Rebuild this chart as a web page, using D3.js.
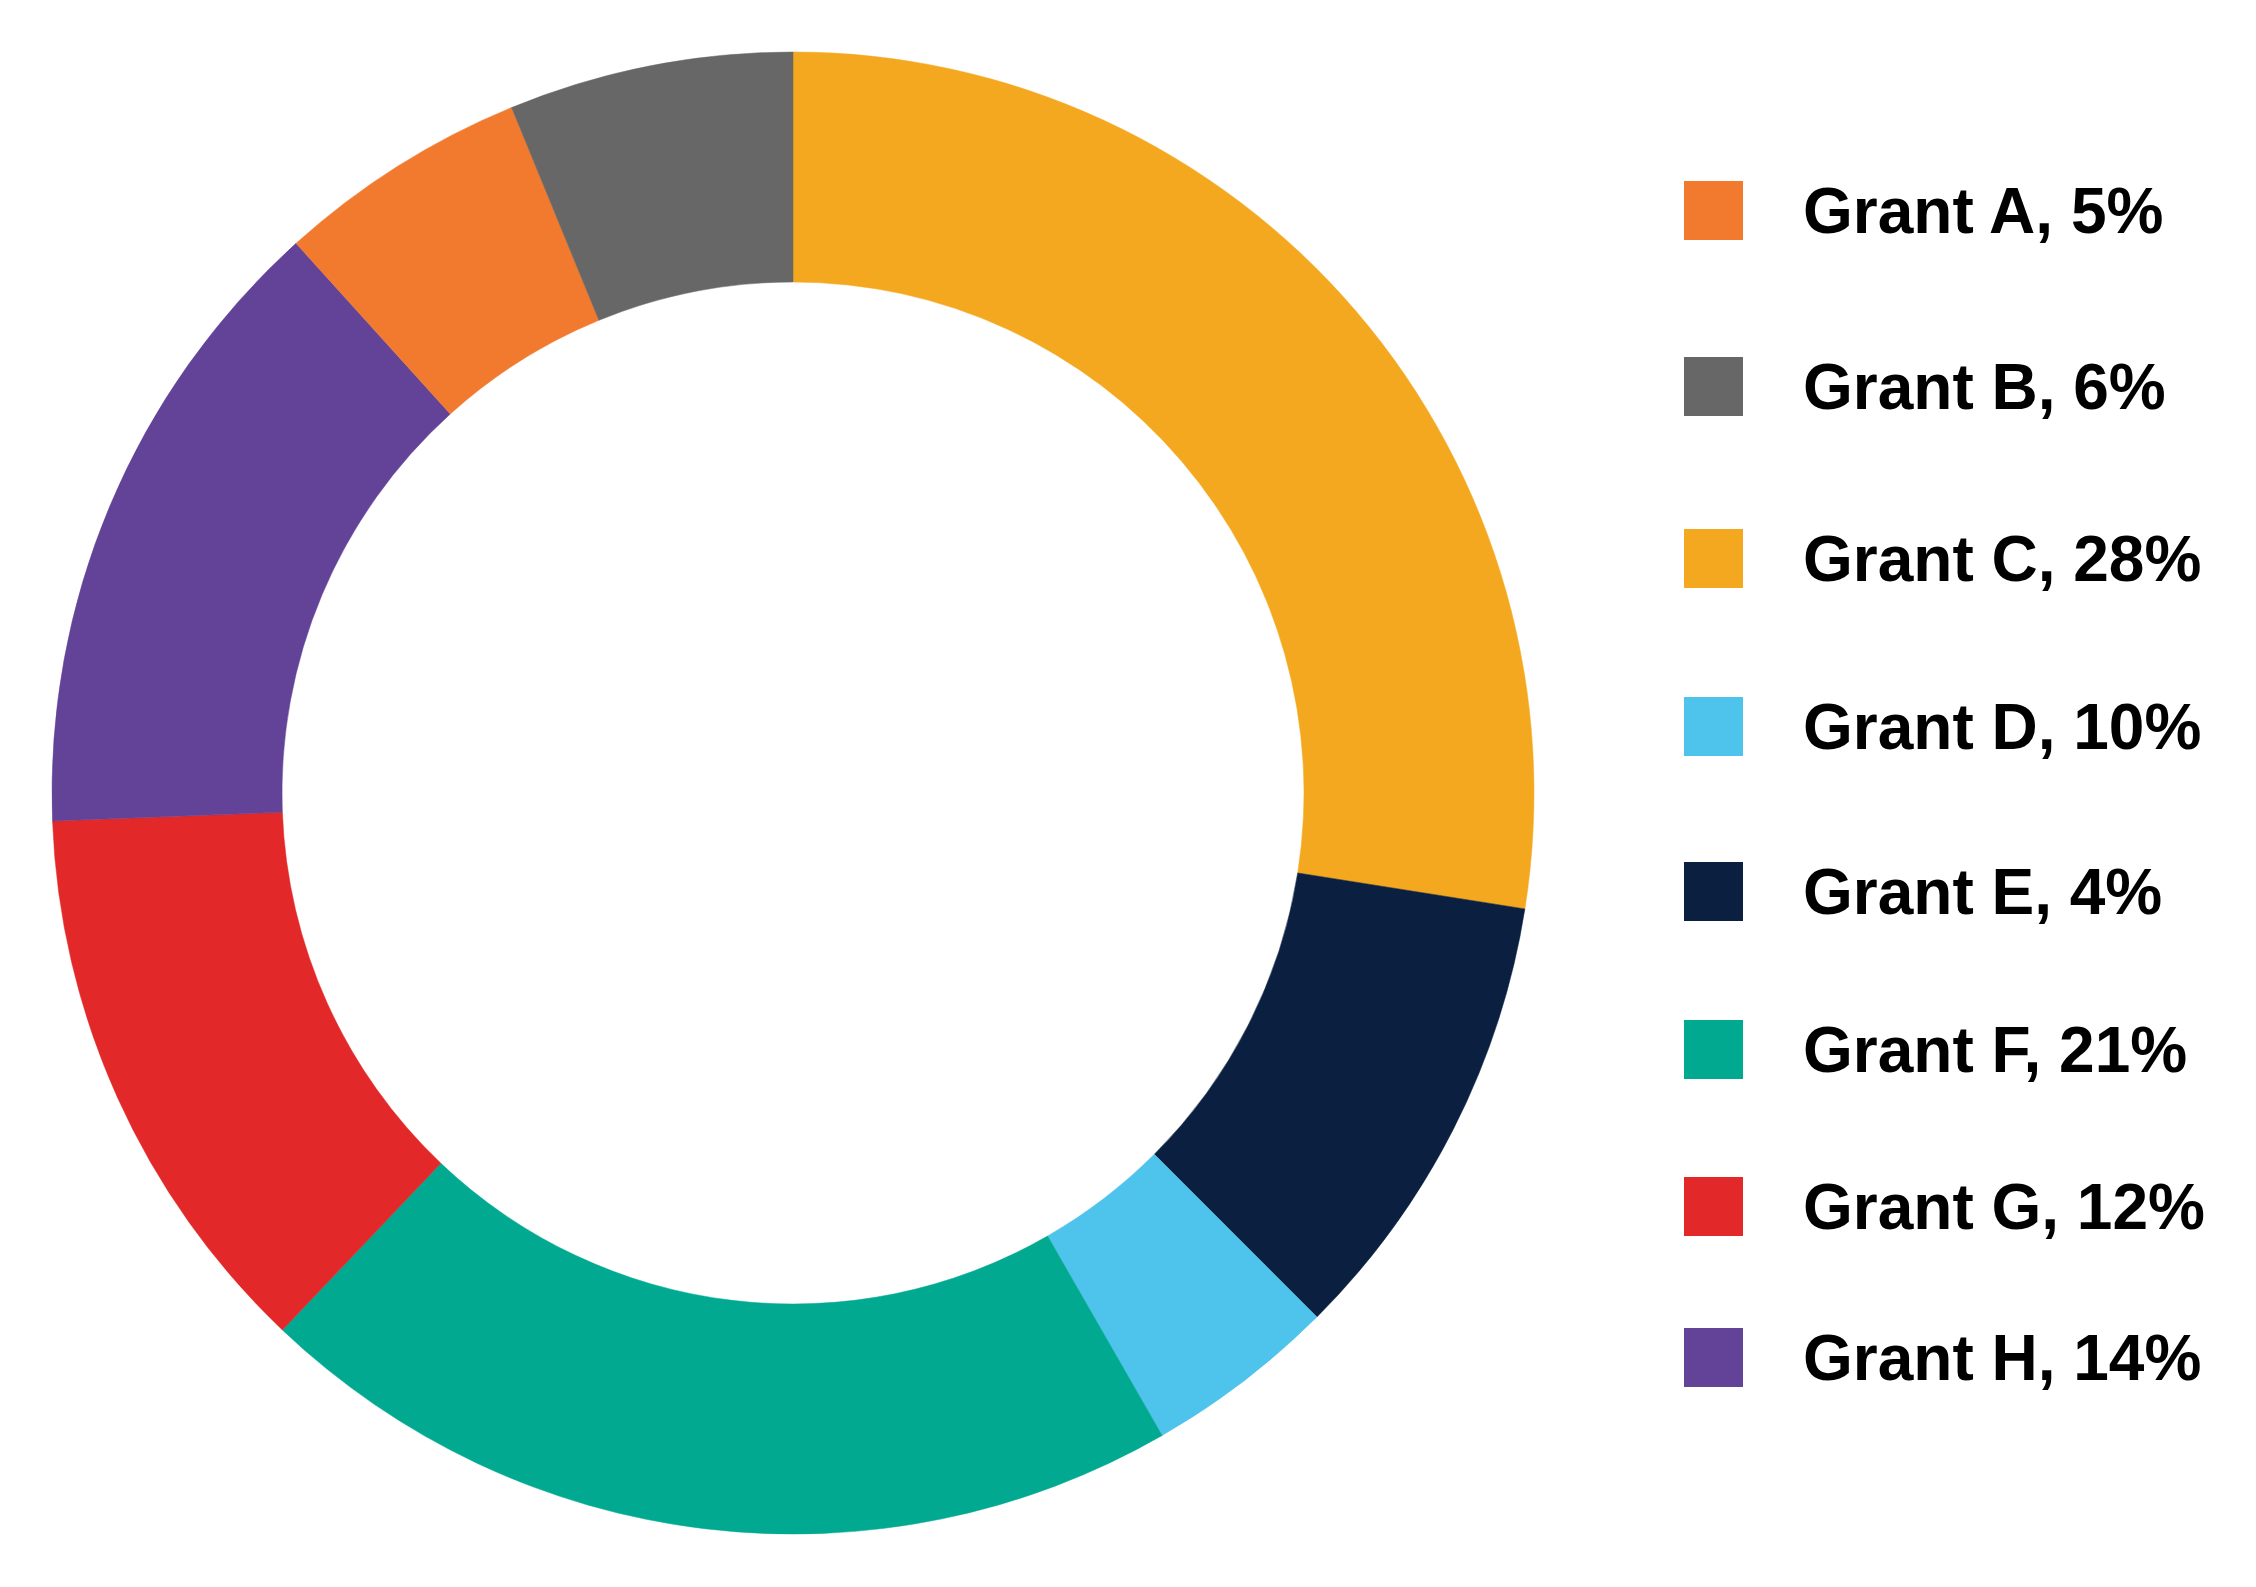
<!DOCTYPE html>
<html>
<head>
<meta charset="utf-8">
<script src="https://cdn.jsdelivr.net/npm/d3@7"></script>
<style>
  html, body { margin: 0; padding: 0; background: #ffffff; }
  svg { display: block; }
</style>
</head>
<body>
<svg id="chart" width="2256" height="1587"></svg>
<script>
// Ring slices, clockwise from 12 o'clock (share of the ring, in %)
const sliceGrants = ["Grant C", "Grant E", "Grant D", "Grant F", "Grant G", "Grant H", "Grant A", "Grant B"];
const sliceValues = [27.5, 10.0, 4.2, 20.4, 12.3, 13.9, 5.5, 6.2];

// Legend
const legendGrants = ["Grant A", "Grant B", "Grant C", "Grant D", "Grant E", "Grant F", "Grant G", "Grant H"];
const legendLabels = ["Grant A, 5%", "Grant B, 6%", "Grant C, 28%", "Grant D, 10%", "Grant E, 4%", "Grant F, 21%", "Grant G, 12%", "Grant H, 14%"];
const grantColors = ["#F17A2F", "#676767", "#F4A81F", "#4EC3EB", "#0B2041", "#00A990", "#E22828", "#624398"];

const svg = d3.select("#chart");
const color = d3.scaleOrdinal().domain(legendGrants).range(grantColors);

const cx = 793, cy = 793, outerR = 741, innerR = 511;

const pie = d3.pie().sort(null).value(d => d.value).startAngle(0).endAngle(2 * Math.PI);
const arc = d3.arc().innerRadius(innerR).outerRadius(outerR);
const data = sliceGrants.map((g, i) => ({ grant: g, value: sliceValues[i] }));

svg.append("g")
  .attr("transform", `translate(${cx},${cy})`)
  .selectAll("path")
  .data(pie(data))
  .join("path")
  .attr("d", arc)
  .attr("fill", d => color(d.data.grant))
  .attr("stroke", d => color(d.data.grant))
  .attr("stroke-width", 0.5);

// Legend rows (tops of swatches measured from reference; spacing slightly decreasing)
const legendTops = [181, 357, 529, 697, 862, 1020, 1177, 1328];
const sw = 59;
const legend = svg.append("g");
const rows = legend.selectAll("g")
  .data(legendGrants.map((g, i) => ({ grant: g, label: legendLabels[i], top: legendTops[i] })))
  .join("g");

rows.append("rect")
  .attr("x", 1684)
  .attr("y", d => d.top)
  .attr("width", sw)
  .attr("height", sw)
  .attr("fill", d => color(d.grant));

rows.append("text")
  .attr("x", 1803)
  .attr("y", d => d.top + sw / 2 + 22)
  .attr("font-family", "'Liberation Sans', Arial, Helvetica, sans-serif")
  .attr("font-weight", "bold")
  .attr("font-size", 64)
  .attr("fill", "#000000")
  .text(d => d.label);
</script>
</body>
</html>
